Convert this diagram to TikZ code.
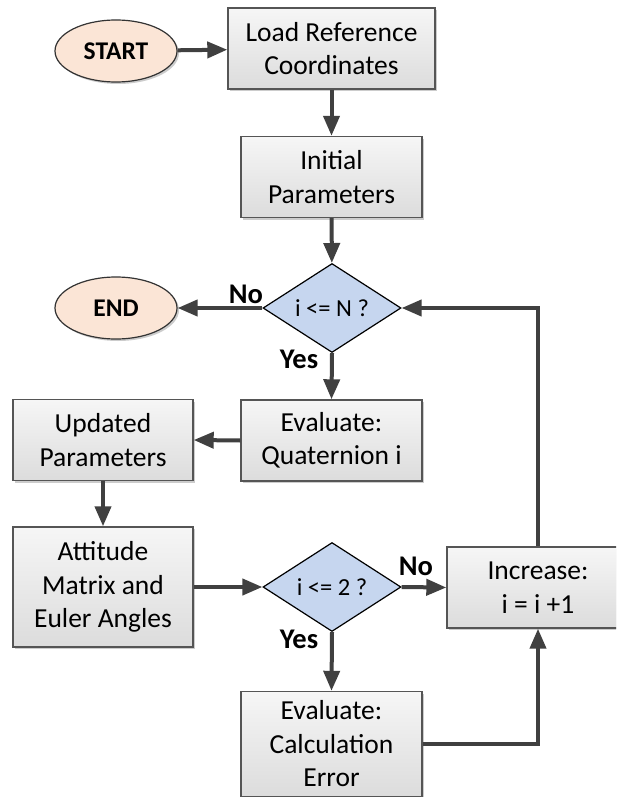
\documentclass[tikz,border=0pt]{standalone}
\usepackage{fontspec}
\setmainfont{Carlito}
\usetikzlibrary{arrows.meta,shapes.geometric,shadows}
\definecolor{boxedge}{HTML}{555555}
\definecolor{arrowc}{HTML}{404040}
\definecolor{peach}{HTML}{FBE5D6}
\definecolor{dblue}{HTML}{C6D6EF}
\definecolor{boxtop}{HTML}{F6F6F6}
\definecolor{boxbot}{HTML}{DCDCDC}
\begin{document}
\begin{tikzpicture}[x=1pt,y=-1pt,
  procbox/.style={draw=boxedge, line width=1.4pt, top color=boxtop, bottom color=boxbot,
    minimum height=81pt, align=center, inner sep=0pt,
    font=\fontsize{27.5}{33.5}\selectfont,
    drop shadow={shadow xshift=2pt, shadow yshift=-2pt, opacity=0.2, fill=black}},
  term/.style={ellipse, draw=black!80, line width=1.2pt, fill=peach,
    minimum width=122pt, minimum height=62pt, inner sep=0pt,
    font=\bfseries\fontsize{25.5}{30}\selectfont,
    drop shadow={shadow xshift=2pt, shadow yshift=-2pt, opacity=0.2, fill=black}},
  decis/.style={diamond, draw=black, line width=1.2pt, fill=dblue, shape aspect=1.55,
    minimum width=138pt, minimum height=89pt, inner sep=0pt,
    font=\fontsize{24.5}{29}\selectfont},
  lbl/.style={font=\bfseries\fontsize{28.5}{32}\selectfont, inner sep=0pt},
  arr/.style={draw=arrowc, line width=4pt, -{Triangle[length=20pt,width=16pt]}}
]
\clip (0,0) rectangle (616,797);
\fill[white] (0,0) rectangle (616,797);

\node[term] (start) at (116,51) {START};
\node[procbox, minimum width=207pt] (load) at (331.5,48.5) {Load Reference\\Coordinates};
\node[procbox, minimum width=181pt] (init) at (331.5,177) {Initial\\Parameters};
\node[decis] (d1) at (332,308) {i <= N ?};
\node[term] (end) at (116,308) {END};
\node[procbox, minimum width=181pt] (evq) at (331.5,440.5) {Evaluate:\\Quaternion i};
\node[procbox, minimum width=180pt] (upd) at (103,440) {Updated\\Parameters};
\node[procbox, minimum width=180pt, minimum height=120pt] (att) at (103,587) {Attitude\\Matrix and\\Euler Angles};
\node[decis] (d2) at (332,587) {i <= 2 ?};
\node[procbox, minimum width=182pt] (inc) at (538,587.5) {Increase:\\i = i +1};
\node[procbox, minimum width=181pt, minimum height=105pt] (evc) at (331.5,744) {Evaluate:\\Calculation\\Error};

\draw[arr] (start) -- (load);
\draw[arr] (load) -- (init);
\draw[arr] (init) -- (d1);
\draw[arr] (d1.west) -- (end.east);
\draw[arr] (d1.south) -- (evq.north);
\draw[arr] (evq.west) -- (upd.east);
\draw[arr] (upd) -- (att);
\draw[arr] (att.east) -- (d2.west);
\draw[arr] (d2.east) -- (inc.west);
\draw[arr] (d2.south) -- (evc.north);
\draw[arr] (evc.east) -| (inc.south);
\draw[arr] (inc.north) |- (d1.east);

\node[lbl] (no1) at (246,294) {No};
\node[lbl] (yes1) at (299,359) {Yes};
\node[lbl] (no2) at (416,566) {No};
\node[lbl] (yes2) at (299,639) {Yes};
\end{tikzpicture}
\end{document}
